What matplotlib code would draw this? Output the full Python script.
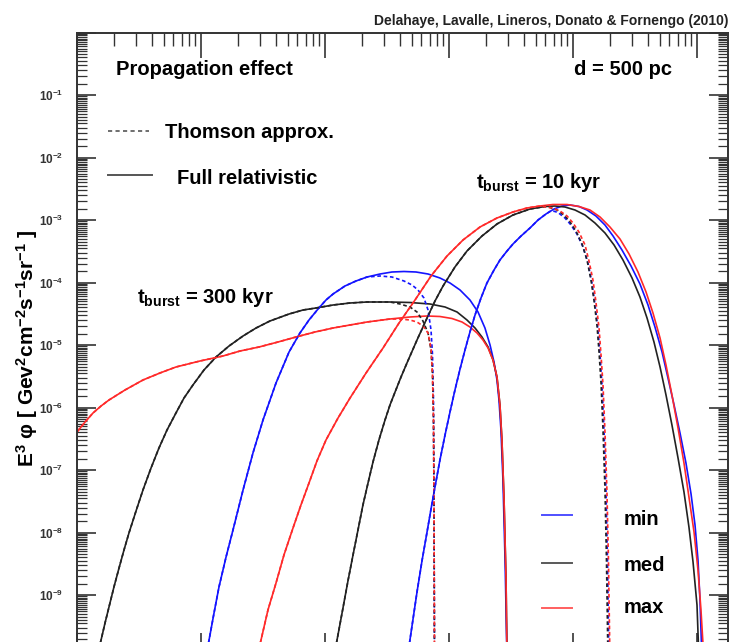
import numpy as np
import matplotlib
matplotlib.use("Agg")
from matplotlib import pyplot as plt
from matplotlib.lines import Line2D
from matplotlib.ticker import LogLocator, FuncFormatter, NullFormatter

plt.rcParams['font.family'] = ['Liberation Sans', 'DejaVu Sans']
plt.rcParams['mathtext.fontset'] = 'custom'
plt.rcParams['mathtext.rm'] = 'Liberation Sans'
plt.rcParams['mathtext.bf'] = 'Liberation Sans:bold'
plt.rcParams['mathtext.it'] = 'Liberation Sans:italic'
plt.rcParams['mathtext.default'] = 'bf'

W, H = 731, 642

#################### DATA (log10 E [GeV], log10 E^3 phi) ####################
# t_burst = 300 kyr, min (blue)
le_300_min_rise = [1.032, 1.065, 1.105, 1.145, 1.202, 1.258, 1.339, 1.419, 1.500, 1.605,
                   1.710, 1.798, 1.871, 1.944, 2.008, 2.065, 2.161, 2.250, 2.339]
lf_300_min_rise = [-10.04, -9.72, -9.288, -8.872, -8.392, -7.96, -7.32, -6.728, -6.2, -5.608,
                   -5.112, -4.808, -4.6, -4.424, -4.28, -4.184, -4.056, -3.976, -3.912]
le_300_min_full = [2.444, 2.540, 2.637, 2.734, 2.831, 2.927, 3.008, 3.089, 3.169, 3.234,
                   3.290, 3.331, 3.363, 3.387, 3.403, 3.419, 3.435, 3.452, 3.468]
lf_300_min_full = [-3.864, -3.832, -3.824, -3.832, -3.864, -3.928, -4.008, -4.12, -4.28, -4.472,
                   -4.728, -5.0, -5.272, -5.56, -5.88, -6.36, -7.16, -8.44, -10.04]
le_300_min_thom = [2.444, 2.540, 2.637, 2.702, 2.750, 2.798, 2.831, 2.855, 2.867, 2.875, 2.879, 2.883]
lf_300_min_thom = [-3.896, -3.912, -3.976, -4.04, -4.12, -4.248, -4.44, -4.76, -5.16, -5.88, -7.48, -10.04]

# t_burst = 300 kyr, med (black)
le_300_med_rise = [0.153, 0.194, 0.226, 0.258, 0.298, 0.339, 0.379, 0.419, 0.476, 0.532,
                   0.597, 0.661, 0.726, 0.798, 0.863, 0.935, 1.024, 1.121, 1.226, 1.339,
                   1.444, 1.556, 1.710, 1.823, 1.927, 2.065, 2.202, 2.339, 2.524]
lf_300_med_rise = [-10.04, -9.72, -9.448, -9.192, -8.872, -8.568, -8.28, -8.008, -7.656, -7.32,
                   -6.968, -6.648, -6.36, -6.088, -5.848, -5.64, -5.4, -5.192, -5.016, -4.856,
                   -4.728, -4.616, -4.504, -4.44, -4.408, -4.36, -4.328, -4.312, -4.312]
le_300_med_full = [2.685, 2.847, 2.968, 3.065, 3.145, 3.210, 3.266, 3.315, 3.355, 3.387,
                   3.411, 3.427, 3.444, 3.460, 3.468]
lf_300_med_full = [-4.32, -4.344, -4.392, -4.472, -4.6, -4.728, -4.872, -5.032, -5.24, -5.512,
                   -5.96, -6.52, -7.48, -8.76, -10.04]
le_300_med_thom = [2.605, 2.685, 2.742, 2.790, 2.831, 2.855, 2.867, 2.875, 2.879, 2.883]
lf_300_med_thom = [-4.344, -4.392, -4.472, -4.616, -4.808, -5.08, -5.48, -6.2, -7.48, -10.04]

# t_burst = 300 kyr, max (red)
le_300_max_rise = [-0.097, 0.0, 0.065, 0.129, 0.194, 0.258, 0.387, 0.532, 0.669, 0.798,
                   0.992, 1.177, 1.315, 1.468, 1.621, 1.766, 1.919, 2.065, 2.202, 2.339, 2.524]
lf_300_max_rise = [-6.616, -6.392, -6.232, -6.088, -5.976, -5.88, -5.72, -5.56, -5.448, -5.352,
                   -5.256, -5.176, -5.096, -5.032, -4.952, -4.872, -4.792, -4.728, -4.68, -4.632, -4.584]
le_300_max_full = [2.685, 2.823, 2.927, 3.024, 3.105, 3.169, 3.226, 3.274, 3.315, 3.355,
                   3.387, 3.411, 3.427, 3.444, 3.460, 3.468]
lf_300_max_full = [-4.552, -4.536, -4.544, -4.576, -4.632, -4.712, -4.808, -4.92, -5.048, -5.24,
                   -5.512, -5.96, -6.52, -7.48, -8.76, -10.04]
le_300_max_thom = [2.605, 2.685, 2.742, 2.790, 2.831, 2.855, 2.867, 2.875, 2.879, 2.883]
lf_300_max_thom = [-4.584, -4.6, -4.632, -4.696, -4.808, -5.048, -5.48, -6.2, -7.48, -10.04]

# t_burst = 10 kyr, min (blue)
le_10_min_rise = [2.661, 2.685, 2.710, 2.742, 2.782, 2.823, 2.855, 2.887, 2.927, 2.968,
                  3.008, 3.048, 3.089, 3.129, 3.169, 3.210, 3.258, 3.306, 3.363, 3.411,
                  3.468, 3.516, 3.581, 3.653, 3.718, 3.782]
lf_10_min_rise = [-10.04, -9.72, -9.384, -8.952, -8.456, -7.992, -7.624, -7.272, -6.84, -6.44,
                  -6.072, -5.72, -5.384, -5.08, -4.792, -4.52, -4.248, -4.008, -3.8, -3.64,
                  -3.496, -3.384, -3.256, -3.128, -3.0, -2.904]
le_10_min_full = [3.847, 3.911, 3.976, 4.048, 4.113, 4.185, 4.258, 4.323, 4.395, 4.468,
                  4.540, 4.605, 4.661, 4.718, 4.766, 4.815, 4.863, 4.911, 4.952, 4.984,
                  5.008, 5.024, 5.040]
lf_10_min_full = [-2.824, -2.776, -2.76, -2.784, -2.84, -2.936, -3.08, -3.256, -3.48, -3.736,
                  -4.024, -4.36, -4.712, -5.112, -5.528, -5.96, -6.408, -6.888, -7.384, -7.88,
                  -8.44, -9.08, -10.04]
le_10_min_thom = [3.815, 3.847, 3.879, 3.935, 3.984, 4.032, 4.081, 4.121, 4.153, 4.177, 4.202,
                  4.218, 4.234, 4.250, 4.266, 4.278, 4.290]
lf_10_min_thom = [-2.862, -2.86, -2.88, -2.968, -3.08, -3.224, -3.432, -3.688, -4.008, -4.344, -4.76,
                  -5.16, -5.64, -6.36, -7.32, -8.44, -10.04]

# t_burst = 10 kyr, med (black)
le_10_med_rise = [2.065, 2.097, 2.121, 2.145, 2.185, 2.226, 2.266, 2.306, 2.347, 2.387,
                  2.435, 2.484, 2.524, 2.565, 2.613, 2.661, 2.742, 2.823, 2.887, 2.952,
                  3.048, 3.145, 3.266, 3.387, 3.516, 3.653, 3.774]
lf_10_med_rise = [-10.04, -9.72, -9.464, -9.208, -8.776, -8.36, -7.96, -7.56, -7.208, -6.872,
                  -6.52, -6.2, -5.96, -5.752, -5.512, -5.288, -4.92, -4.568, -4.296, -4.056,
                  -3.752, -3.496, -3.256, -3.064, -2.92, -2.824, -2.784]
le_10_med_full = [3.855, 3.935, 4.016, 4.097, 4.177, 4.258, 4.331, 4.403, 4.476, 4.540,
                  4.597, 4.653, 4.702, 4.750, 4.798, 4.847, 4.895, 4.935, 4.968, 5.0, 5.016]
lf_10_med_full = [-2.776, -2.792, -2.84, -2.92, -3.048, -3.208, -3.4, -3.64, -3.928, -4.232,
                  -4.568, -4.952, -5.352, -5.8, -6.28, -6.808, -7.352, -7.912, -8.472, -9.16, -10.04]
le_10_med_thom = [3.815, 3.871, 3.927, 3.976, 4.024, 4.073, 4.113, 4.145, 4.169, 4.194,
                  4.210, 4.226, 4.242, 4.258, 4.270, 4.282]
lf_10_med_thom = [-2.8, -2.84, -2.92, -3.032, -3.176, -3.384, -3.64, -3.96, -4.28, -4.696,
                  -5.112, -5.608, -6.36, -7.32, -8.44, -10.04]

# t_burst = 10 kyr, max (red)
le_10_max_rise = [1.444, 1.484, 1.540, 1.605, 1.669, 1.742, 1.806, 1.871, 1.935, 2.008,
                  2.105, 2.202, 2.331, 2.468, 2.597, 2.726, 2.855, 2.984, 3.113, 3.250,
                  3.387, 3.516, 3.629, 3.734]
lf_10_max_rise = [-10.04, -9.72, -9.24, -8.808, -8.36, -7.928, -7.56, -7.208, -6.856, -6.52,
                  -6.168, -5.848, -5.448, -5.048, -4.648, -4.28, -3.896, -3.576, -3.32, -3.112,
                  -2.968, -2.872, -2.808, -2.776]
le_10_max_full = [3.839, 3.952, 4.048, 4.137, 4.218, 4.298, 4.379, 4.452, 4.524, 4.589,
                  4.645, 4.702, 4.750, 4.798, 4.847, 4.895, 4.935, 4.976, 5.008, 5.032, 5.056]
lf_10_max_full = [-2.752, -2.752, -2.784, -2.84, -2.952, -3.112, -3.304, -3.544, -3.832, -4.152,
                  -4.488, -4.888, -5.32, -5.8, -6.328, -6.888, -7.432, -7.992, -8.6, -9.24, -10.04]
le_10_max_thom = [3.839, 3.895, 3.952, 4.0, 4.048, 4.097, 4.129, 4.161, 4.185, 4.210,
                  4.226, 4.242, 4.258, 4.274, 4.286, 4.298]
lf_10_max_thom = [-2.808, -2.856, -2.936, -3.048, -3.192, -3.4, -3.656, -3.96, -4.312, -4.728,
                  -5.16, -5.64, -6.392, -7.352, -8.44, -10.04]

case_labels = ['min', 'med', 'max']
case_colors = ['#1414ff', '#222222', '#ff2a2a']
y_label_exps = list(range(-1, -10, -1))


def fx(px):
    return px / W


def fy(py):
    return 1 - py / H


def curve(le_a, lf_a, le_b, lf_b):
    e = 10 ** np.array(le_a + le_b)
    f = 10 ** np.array(lf_a + lf_b)
    return e, f


fig = plt.figure(figsize=(W / 100, H / 100), dpi=100)
ax = fig.add_axes([fx(77), fy(657.5), fx(728) - fx(77), (657.5 - 32.5) / H])
ax.set_xscale('log')
ax.set_yscale('log')
ax.set_xlim(1, 10 ** 5.25)
ax.set_ylim(1e-10, 1)

cases = [
    ('min', le_300_min_rise, lf_300_min_rise, le_300_min_full, lf_300_min_full, le_300_min_thom, lf_300_min_thom),
    ('med', le_300_med_rise, lf_300_med_rise, le_300_med_full, lf_300_med_full, le_300_med_thom, lf_300_med_thom),
    ('max', le_300_max_rise, lf_300_max_rise, le_300_max_full, lf_300_max_full, le_300_max_thom, lf_300_max_thom),
    ('min', le_10_min_rise, lf_10_min_rise, le_10_min_full, lf_10_min_full, le_10_min_thom, lf_10_min_thom),
    ('med', le_10_med_rise, lf_10_med_rise, le_10_med_full, lf_10_med_full, le_10_med_thom, lf_10_med_thom),
    ('max', le_10_max_rise, lf_10_max_rise, le_10_max_full, lf_10_max_full, le_10_max_thom, lf_10_max_thom),
]

for name, ler, lfr, lef, lff, let, lft in cases:
    c = case_colors[case_labels.index(name)]
    e, f = curve(ler, lfr, lef, lff)
    ax.plot(e, f, color=c, lw=1.2, solid_joinstyle='round')
for name, ler, lfr, lef, lff, let, lft in cases:
    c = case_colors[case_labels.index(name)]
    e, f = curve(ler, lfr, let, lft)
    ax.plot(e, f, color=c, lw=1.2, ls=(0, (2.2, 1.6)))

# axes styling
for s in ax.spines.values():
    s.set_linewidth(1.4)
    s.set_color('#333333')
ax.xaxis.set_major_locator(LogLocator(base=10, numticks=20))
ax.xaxis.set_minor_locator(LogLocator(base=10, subs=np.arange(2, 10), numticks=20))
ax.xaxis.set_major_formatter(NullFormatter())
ax.xaxis.set_minor_formatter(NullFormatter())
ax.yaxis.set_major_locator(LogLocator(base=10, numticks=20))
ax.yaxis.set_minor_locator(LogLocator(base=10, subs=np.arange(1.5, 10, 0.5), numticks=40))
ax.yaxis.set_minor_formatter(NullFormatter())


def ylab(v, pos):
    ex = int(round(np.log10(v)))
    if ex not in y_label_exps:
        return ''
    return '$10^{%d}$' % ex


ax.yaxis.set_major_formatter(FuncFormatter(ylab))
ax.tick_params(which='both', direction='in', top=True, right=True, color='#333333')
ax.tick_params(axis='x', which='major', length=18, width=1.2)
ax.tick_params(axis='x', which='minor', length=9, width=1.0)
ax.tick_params(axis='y', which='major', length=14, width=1.2, pad=10, labelsize=8.5, labelcolor='#333333')
ax.tick_params(axis='y', which='minor', length=7, width=0.9)

# texts
fig.text(fx(728), fy(25), 'Delahaye, Lavalle, Lineros, Donato & Fornengo (2010)',
         ha='right', va='baseline', fontsize=10, weight='bold', color='#222222')
fig.text(fx(116), fy(75), 'Propagation effect', ha='left', va='baseline', fontsize=14.5, weight='bold')
fig.text(fx(672), fy(75), 'd = 500 pc', ha='right', va='baseline', fontsize=14.5, weight='bold')
fig.text(fx(476), fy(188), 't$_{burst}$ = 10 kyr', ha='left', va='baseline', fontsize=14.5, weight='bold')
fig.text(fx(137), fy(303), 't$_{burst}$ = 300 kyr', ha='left', va='baseline', fontsize=14.5, weight='bold')

fig.text(fx(27), fy(348), 'E$^{3}$ φ [ Gev$^{2}$cm$^{-2}$s$^{-1}$sr$^{-1}$ ]', rotation=90,
         ha='center', va='center', fontsize=15, weight='bold')

# style legend
fig.add_artist(Line2D([fx(108), fx(149)], [fy(131), fy(131)], color='#555555', lw=1.2, ls=(0, (2.5, 2.0))))
fig.text(fx(165), fy(138), 'Thomson approx.', ha='left', va='baseline', fontsize=14.5, weight='bold')
fig.add_artist(Line2D([fx(108), fx(152)], [fy(175), fy(175)], color='#555555', lw=1.4))
fig.text(fx(177), fy(184), 'Full relativistic', ha='left', va='baseline', fontsize=14.5, weight='bold')

# colour legend
leg_y = [515, 563, 608]
leg_base = [525, 571, 613]
for lab, col, yl, yb in zip(case_labels, case_colors, leg_y, leg_base):
    fig.add_artist(Line2D([fx(542), fx(572)], [fy(yl), fy(yl)], color=col, lw=1.4, alpha=0.75))
    fig.text(fx(624), fy(yb), lab, ha='left', va='baseline', fontsize=14.5, weight='bold')

fig.savefig('out.png', dpi=100)
